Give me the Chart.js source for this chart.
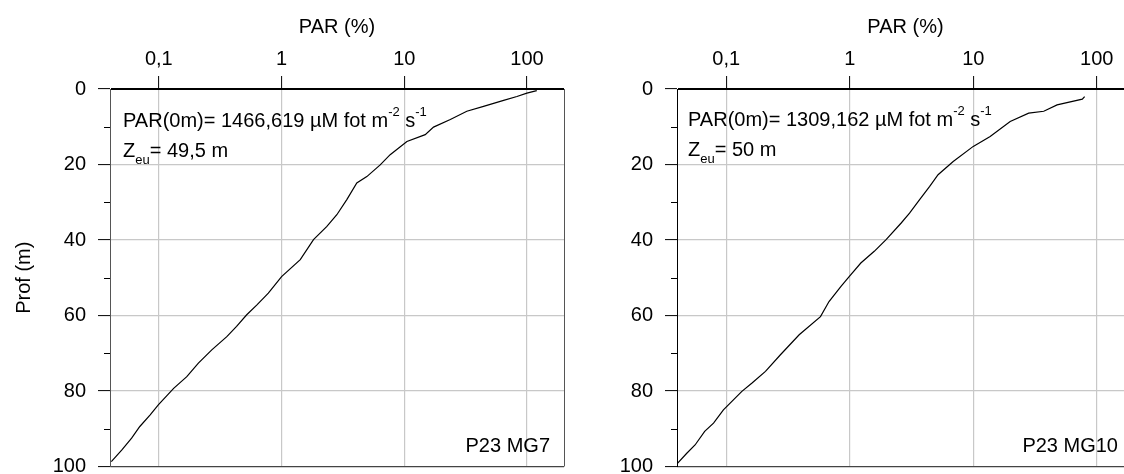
<!DOCTYPE html>
<html>
<head>
<meta charset="utf-8">
<script src="https://cdn.jsdelivr.net/npm/chart.js@4/dist/chart.umd.min.js"></script>
<style>
  html, body { margin: 0; padding: 0; background: #fff; overflow: hidden; }
  body { width: 1124px; height: 474px; position: relative; }
  canvas { position: absolute; top: 0; }
  .txt { position: absolute; font-family: 'Liberation Sans', Arial, sans-serif;
         font-size: 20px; line-height: 20px; color: #000; white-space: nowrap; }
  .sup { font-size: 13px; position: relative; top: -11px; }
  .sub { font-size: 13px; position: relative; top: 7px; }
</style>
</head>
<body>
<canvas id="c1" width="600" height="474" style="left:0px"></canvas>
<canvas id="c2" width="610" height="474" style="left:560px"></canvas>

<div class="txt" style="left:123px;top:110px">PAR(0m)= 1466,619 µM fot m<span class="sup">-2</span> s<span class="sup">-1</span></div>
<div class="txt" style="left:123px;top:140px">Z<span class="sub">eu</span>= 49,5 m</div>
<div class="txt" style="left:350px;top:435px;width:200px;text-align:right">P23 MG7</div>

<div class="txt" style="left:688px;top:109px">PAR(0m)= 1309,162 µM fot m<span class="sup">-2</span> s<span class="sup">-1</span></div>
<div class="txt" style="left:688px;top:139px">Z<span class="sub">eu</span>= 50 m</div>
<div class="txt" style="left:918px;top:435px;width:200px;text-align:right">P23 MG10</div>

<script>
// depth (m) and PAR (%)
var depthMG7 = [0.45, 1.1, 2.0, 3.0, 4.6, 5.9, 8.1, 10.1, 12.1, 13.9, 17.4, 20.1, 23.2, 24.9, 29.3, 33.3, 36.4, 39.9,
                45.2, 49.7, 54.1, 57.2, 59.8, 62.9, 65.6, 69.1, 72.6, 76.2, 79.3, 83.7, 86.3, 89.4, 92.5, 95.6, 98.7];
var parMG7 = [120, 99.7, 82.7, 64.4, 44.2, 32.3, 23.7, 17.3, 14.8, 10.5, 7.67, 6.36, 4.95, 4.1, 3.4, 2.82, 2.34, 1.82,
              1.42, 1.0, 0.78, 0.63, 0.52, 0.43, 0.358, 0.27, 0.21, 0.169, 0.132, 0.099, 0.085, 0.07, 0.06, 0.05, 0.041];

var depthMG10 = [2.0, 2.7, 4.2, 5.9, 6.4, 8.6, 12.6, 15.2, 19.2, 22.7, 25.8, 29.3, 32.9, 35.5, 39.9, 43.0, 46.1,
                 49.7, 52.3, 56.3, 60.3, 65.1, 70.4, 74.8, 77.9, 80.1, 85.0, 88.5, 90.7, 94.3, 96.5, 99.3];
var parMG10 = [79.7, 76.3, 47.7, 37.2, 28.1, 19.9, 13.7, 10.0, 6.88, 5.19, 4.44, 3.68, 3.05, 2.61, 1.97, 1.58, 1.23,
               0.99, 0.85, 0.68, 0.58, 0.39, 0.275, 0.208, 0.162, 0.134, 0.095, 0.079, 0.067, 0.056, 0.048, 0.04];

var xTickValues = [0.1, 1, 10, 100];
var xTickLabels = ['0,1', '1', '10', '100'];
var yMinorTicks = [10, 30, 50, 70, 90];

var FONT = "'Liberation Sans', Arial, sans-serif";

var framePlugin = {
  id: 'frame',
  afterDatasetsDraw: function(chart) {
    var ctx = chart.ctx, a = chart.chartArea, y = chart.scales.y;
    ctx.save();
    ctx.lineWidth = 1;
    ctx.strokeStyle = '#000';
    yMinorTicks.forEach(function(v) {
      var py = Math.round(y.getPixelForValue(v)) + 0.5;
      ctx.beginPath();
      ctx.moveTo(a.left - 6, py);
      ctx.lineTo(a.left, py);
      ctx.stroke();
    });
    ctx.strokeStyle = '#555';
    ctx.beginPath();
    ctx.moveTo(Math.round(a.right) + 0.5, a.top);
    ctx.lineTo(Math.round(a.right) + 0.5, a.bottom);
    ctx.stroke();
    ctx.restore();
  }
};

function makeChart(id, depth, par, yWidth, yTitle, axisColor) {
  var pts = [];
  for (var i = 0; i < depth.length; i++) pts.push({x: par[i], y: depth[i]});
  return new Chart(document.getElementById(id), {
    type: 'scatter',
    data: {
      datasets: [{
        data: pts,
        showLine: true,
        borderColor: '#000',
        borderWidth: 1.2,
        pointRadius: 0,
        tension: 0
      }]
    },
    plugins: [framePlugin],
    options: {
      responsive: false,
      animation: false,
      layout: { padding: { left: 0, top: 0, right: 36, bottom: 7.5 } },
      plugins: { legend: { display: false }, tooltip: { enabled: false } },
      scales: {
        x: {
          type: 'logarithmic',
          position: 'top',
          min: 0.04,
          max: 200,
          afterBuildTicks: function(axis) {
            axis.ticks = xTickValues.map(function(v) { return {value: v}; });
          },
          afterFit: function(axis) {
            axis.height = 89;
            axis.paddingLeft = 0; axis.paddingRight = 0;
          },
          title: {
            display: true,
            text: 'PAR (%)',
            color: '#000',
            font: { family: FONT, size: 20 },
            padding: { top: 15, bottom: 0 }
          },
          ticks: {
            autoSkip: false,
            maxRotation: 0,
            padding: 5,
            color: '#000',
            font: { family: FONT, size: 20 },
            callback: function(value) {
              var k = xTickValues.indexOf(value);
              return k >= 0 ? xTickLabels[k] : '';
            }
          },
          grid: { color: '#c8c8c8', lineWidth: 1.2, tickColor: '#000', tickLength: 13, tickWidth: 1 },
          border: { color: '#000', width: 1 }
        },
        y: {
          type: 'linear',
          reverse: true,
          min: 0,
          max: 100,
          afterFit: function(axis) {
            axis.width = yWidth;
            axis.paddingTop = 0; axis.paddingBottom = 0;
          },
          ticks: {
            stepSize: 20,
            padding: 12,
            color: '#000',
            font: { family: FONT, size: 20 }
          },
          title: {
            display: !!yTitle,
            text: yTitle || '',
            color: '#000',
            font: { family: FONT, size: 20 },
            padding: { top: 12, bottom: 0 }
          },
          grid: {
            color: function(c) {
              if (c.tick && c.tick.value === 100) return '#444';
              if (c.tick && c.tick.value === 0) return '#000';
              return '#c8c8c8';
            },
            lineWidth: 1.2,
            tickColor: '#000',
            tickLength: 12,
            tickWidth: 1
          },
          border: { color: axisColor, width: 1 }
        }
      }
    }
  });
}

makeChart('c1', depthMG7, parMG7, 110, 'Prof (m)', '#555');
makeChart('c2', depthMG10, parMG10, 117, null, '#000');
</script>
</body>
</html>
